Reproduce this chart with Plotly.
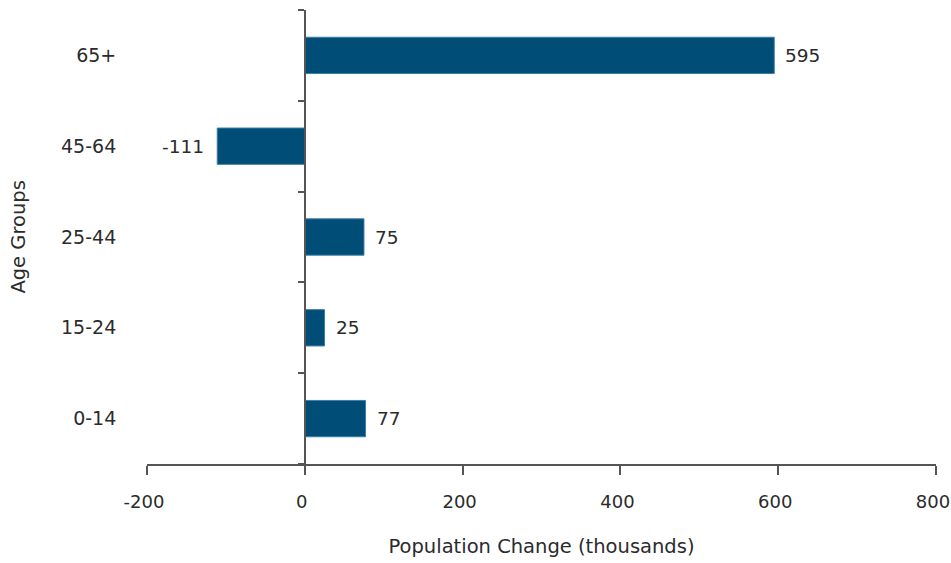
import plotly.graph_objects as go

categories = ["0-14", "15-24", "25-44", "45-64", "65+"]
values = [77, 25, 75, -111, 595]
x_tick_vals = [-200, 0, 200, 400, 600, 800]
x_tick_text = ["-200", "0", "200", "400", "600", "800"]
x_range = [-200, 800]

BAR = "#004d77"
EDGE = "#3d7ea6"
TXT = "#2b2b2b"
AX = "#555555"
FONT = "DejaVu Sans, Liberation Sans, Arial, sans-serif"

fig = go.Figure()
fig.add_trace(go.Bar(
    x=values, y=categories, orientation="h",
    marker=dict(color=BAR, line=dict(color=EDGE, width=1)),
    width=0.4, hoverinfo="skip",
))

for v, c in zip(values, categories):
    fig.add_annotation(
        x=v, y=c, text=str(v), showarrow=False,
        xanchor="left" if v >= 0 else "right",
        xshift=9 if v >= 0 else -11,
        font=dict(family=FONT, size=18.5, color=TXT),
    )

ypos = (0 - x_range[0]) / (x_range[1] - x_range[0])

fig.update_layout(
    width=951, height=563,
    margin=dict(l=147, r=15, t=10, b=99, autoexpand=False),
    plot_bgcolor="white", paper_bgcolor="white",
    showlegend=False,
    font=dict(family=FONT, size=19, color=TXT),
    xaxis=dict(
        range=x_range, tickvals=x_tick_vals, ticktext=x_tick_text,
        showline=True, linecolor=AX, linewidth=1.5,
        ticks="outside", ticklen=9, tickcolor=AX, tickwidth=1.5,
        showgrid=False, zeroline=False,
        tickfont=dict(size=18, color=TXT),
        ticklabelstandoff=12,
        ticklabelshift=-3,
        ticklabeloverflow="allow",
        automargin=False,
        title=dict(text="Population Change (thousands)", font=dict(size=19.5, color=TXT), standoff=28),
    ),
    yaxis=dict(
        categoryorder="array", categoryarray=categories,
        anchor="free", position=ypos,
        showline=True, linecolor=AX, linewidth=1.5,
        ticks="outside", ticklen=6, tickcolor=AX, tickwidth=1.5,
        tickson="boundaries",
        showgrid=False, zeroline=False,
        tickfont=dict(size=19, color=TXT),
        ticklabelstandoff=184,
        automargin=False,
    ),
)

fig.add_annotation(
    text="Age Groups", textangle=-90, showarrow=False,
    xref="paper", yref="paper", x=-0.164, y=0.5,
    xanchor="center", yanchor="middle",
    font=dict(family=FONT, size=19.5, color=TXT),
)

fig.write_html("out.html")
